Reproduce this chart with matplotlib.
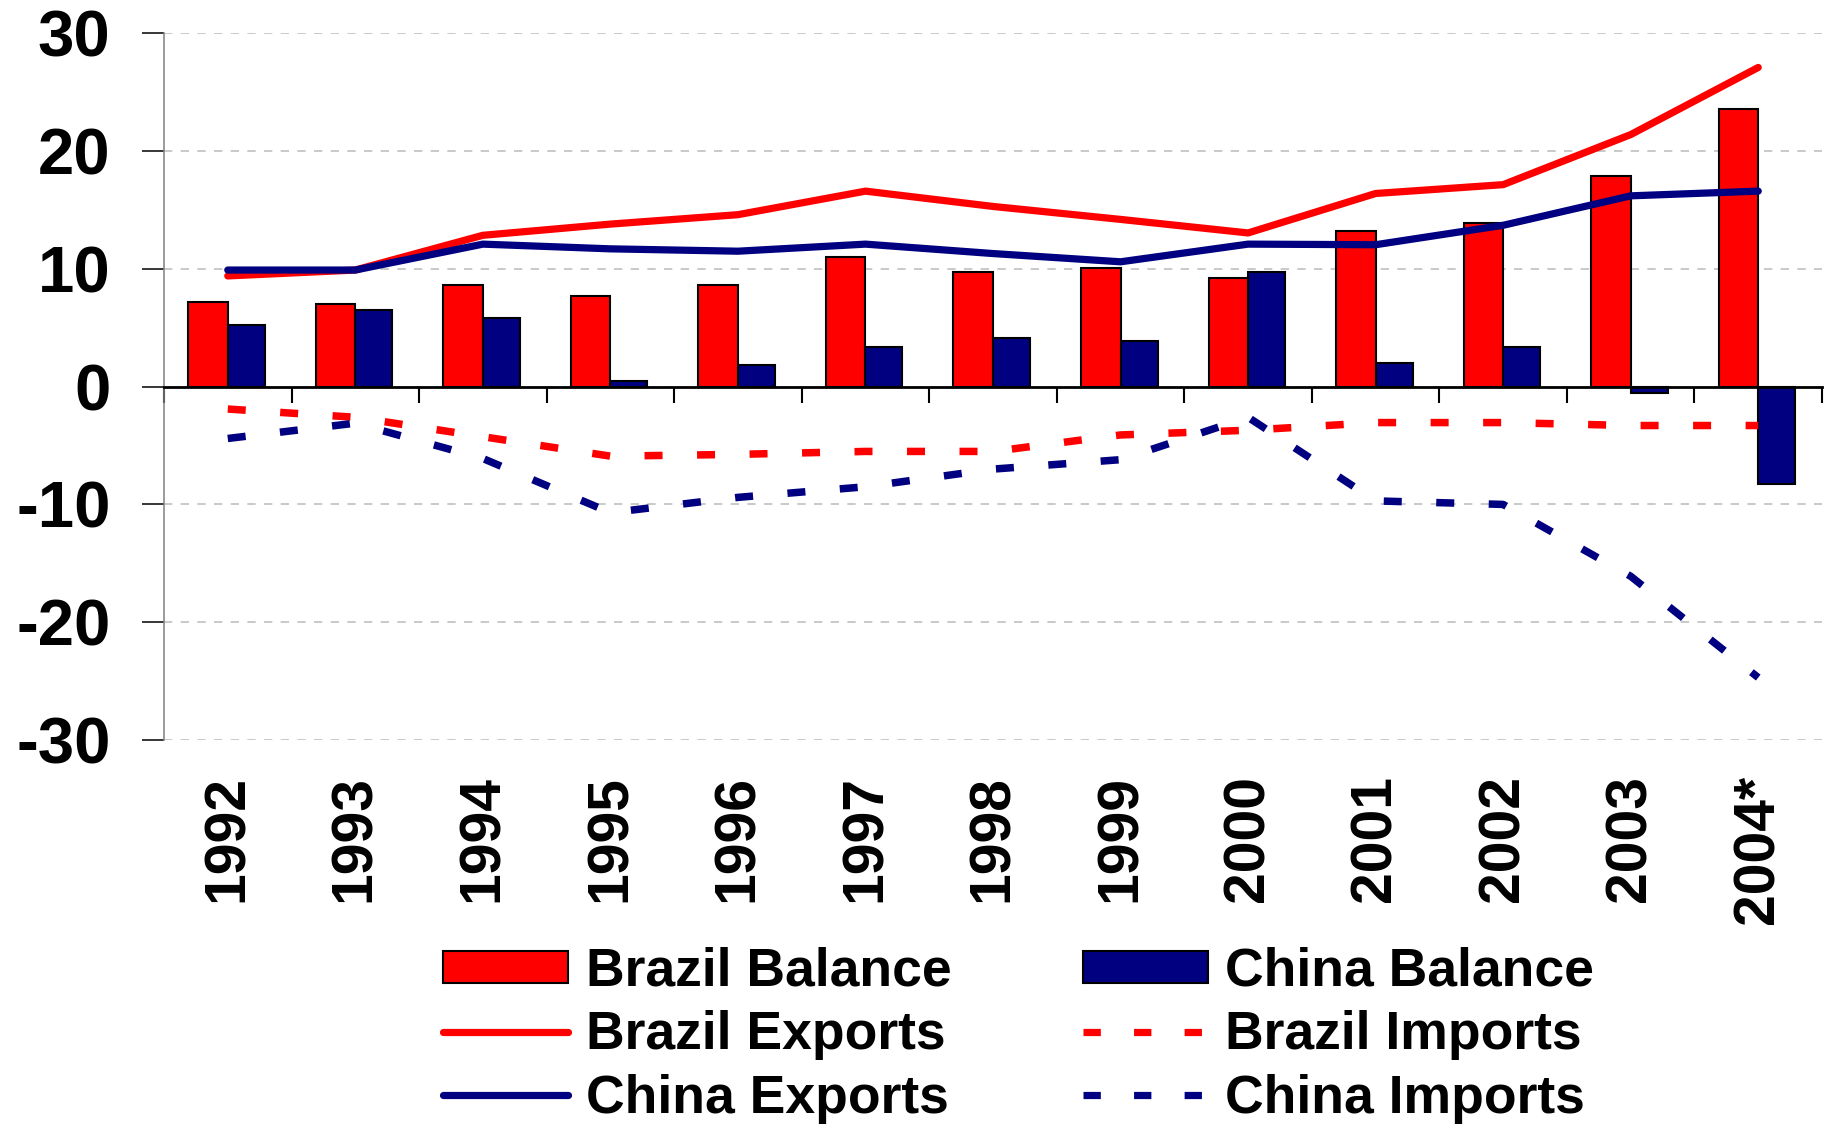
import matplotlib
matplotlib.use('Agg')
import matplotlib.pyplot as plt
from matplotlib.patches import Patch
from matplotlib.lines import Line2D
import numpy as np

years = ['1992', '1993', '1994', '1995', '1996', '1997', '1998', '1999',
         '2000', '2001', '2002', '2003', '2004*']
brazil_balance = [7.2, 7.0, 8.6, 7.7, 8.6, 11.0, 9.7, 10.1, 9.2, 13.2, 13.9, 17.9, 23.6]
china_balance = [5.2, 6.5, 5.8, 0.5, 1.8, 3.4, 4.1, 3.9, 9.7, 2.0, 3.4, -0.5, -8.3]
brazil_exports = [9.4, 9.9, 12.85, 13.8, 14.6, 16.6, 15.3, 14.2, 13.05, 16.4, 17.15, 21.4, 27.1]
china_exports = [9.9, 9.9, 12.1, 11.7, 11.5, 12.1, 11.3, 10.6, 12.1, 12.05, 13.7, 16.2, 16.6]
brazil_imports = [-1.9, -2.6, -4.25, -5.9, -5.75, -5.5, -5.5, -4.1, -3.7, -3.05, -3.05, -3.3, -3.3]
china_imports = [-4.4, -3.1, -6.1, -10.7, -9.4, -8.5, -7.0, -6.2, -2.6, -9.7, -10.0, -16.1, -24.7]
yticks = [-30, -20, -10, 0, 10, 20, 30]

RED = '#FF0000'
NAVY = '#000080'

plt.rcParams['font.family'] = ['Liberation Sans', 'DejaVu Sans']
plt.rcParams['font.weight'] = 'bold'
plt.rcParams['axes.unicode_minus'] = False

W, H = 1835, 1124
fig = plt.figure(figsize=(W / 100, H / 100), dpi=100)
ax = fig.add_axes([164 / W, 1 - 740 / H, (1822 - 164) / W, (740 - 33.3) / H])

x = np.arange(len(years))
ax.bar(x - 0.155, brazil_balance, width=0.31, color=RED, edgecolor='black',
       linewidth=1.5, zorder=2)
ax.bar(x + 0.145, china_balance, width=0.29, color=NAVY, edgecolor='black',
       linewidth=1.5, zorder=2)

dash = (2.4, 4.6)
ax.plot(x, brazil_exports, color=RED, lw=5.2, solid_capstyle='round',
        solid_joinstyle='round', zorder=3)
ax.plot(x, brazil_imports, color=RED, lw=5.4, dashes=dash, dash_capstyle='butt',
        zorder=3)
ax.plot(x, china_exports, color=NAVY, lw=5.2, solid_capstyle='round',
        solid_joinstyle='round', zorder=4)
ax.plot(x, china_imports, color=NAVY, lw=5.4, dashes=dash, dash_capstyle='butt',
        zorder=4)

ax.set_xlim(-0.5, len(years) - 0.5)
ax.set_ylim(-30, 30)
ax.set_yticks(yticks)
ax.set_yticklabels([str(v) for v in yticks])
ax.yaxis.grid(True, color='#c0c0c0', linestyle=(0, (5, 5)), linewidth=1.2)
ax.set_axisbelow(True)

for s in ['top', 'right']:
    ax.spines[s].set_visible(False)
ax.spines['left'].set_color('#808080')
ax.spines['left'].set_linewidth(1.1)
ax.spines['bottom'].set_position(('data', 0))
ax.spines['bottom'].set_color('black')
ax.spines['bottom'].set_linewidth(2)
ax.spines['bottom'].set_zorder(5)

ax.set_xticks(np.arange(-0.5, len(years), 1))
ax.set_xticklabels([])
ax.tick_params(axis='x', direction='out', length=11.5, width=1.5, color='black')
ax.tick_params(axis='y', direction='out', length=15.6, width=1.1, color='black',
               labelsize=47, pad=23)
for lab in ax.get_yticklabels():
    lab.set_fontweight('bold')

for i, yr in enumerate(years):
    ax.annotate(yr, xy=(i, 0), xycoords=('data', 'axes fraction'),
                xytext=(0, -25), textcoords='offset points', rotation=90,
                ha='center', va='top', fontsize=41, fontweight='bold')

h_bb = Patch(facecolor=RED, edgecolor='black', linewidth=1.5)
h_cb = Patch(facecolor=NAVY, edgecolor='black', linewidth=1.5)
h_be = Line2D([], [], color=RED, lw=5.2, solid_capstyle='round')
h_ce = Line2D([], [], color=NAVY, lw=5.2, solid_capstyle='round')
h_bi = Line2D([], [], color=RED, lw=5.2, dashes=dash, dash_capstyle='butt')
h_ci = Line2D([], [], color=NAVY, lw=5.2, dashes=dash, dash_capstyle='butt')

fig.legend([h_bb, h_be, h_ce, h_cb, h_bi, h_ci],
           ['Brazil Balance', 'Brazil Exports', 'China Exports',
            'China Balance', 'Brazil Imports', 'China Imports'],
           ncol=2, loc='upper left', bbox_to_anchor=(443 / W, 1 - 947 / H),
           frameon=False, prop={'size': 38.5, 'weight': 'bold'},
           handlelength=2.34, handleheight=0.56, handletextpad=0.33,
           columnspacing=2.45, labelspacing=0.25, borderpad=0, borderaxespad=0)

fig.savefig('out.png', dpi=100)
